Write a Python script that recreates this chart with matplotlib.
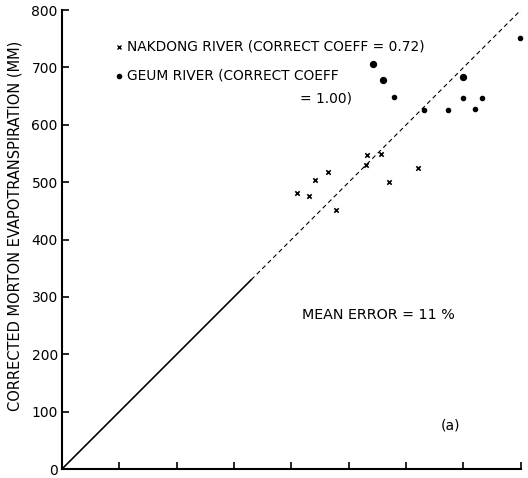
import numpy as np
import matplotlib.pyplot as plt

# observed vs corrected Morton ET (mm), read per basin
nakdong_obs = [410, 431, 441, 464, 478, 530, 531, 556, 570, 620]
nakdong_cor = [481, 476, 504, 518, 451, 530, 547, 549, 500, 525]

geum_obs = [542, 560, 700, 579, 631, 673, 700, 732, 720, 798]
geum_cor = [706, 678, 683, 648, 626, 626, 647, 647, 627, 752]

# 1:1 reference line, solid near the origin then broken
one_solid = [0, 330]
one_dash = [330, 800]

yticks = [0, 100, 200, 300, 400, 500, 600, 700, 800]
xticks = [0, 100, 200, 300, 400, 500, 600, 700, 800]

fig = plt.figure(figsize=(5.28, 4.78), dpi=100)
ax = fig.add_axes([0.1174, 0.0188, 0.869, 0.960])

ax.plot(one_solid, one_solid, color='black', lw=1.2)
ax.plot(one_dash, one_dash, color='black', lw=0.8, dashes=(4, 3))

ax.scatter(nakdong_obs, nakdong_cor, marker='x', s=10, color='black', lw=1.2, clip_on=False)
ax.scatter(geum_obs[:3], geum_cor[:3], marker='o', s=18, color='black', clip_on=False)
ax.scatter(geum_obs[3:], geum_cor[3:], marker='o', s=9, color='black', clip_on=False)

ax.set_xlim(0, 800)
ax.set_ylim(0, 800)
ax.set_xticks(xticks)
ax.set_xticklabels([])
ax.set_yticks(yticks)
ax.set_yticklabels([str(t) for t in yticks], fontsize=10)
ax.tick_params(axis='both', direction='in', length=5, width=1.2, pad=3)

for side in ('top', 'right'):
    ax.spines[side].set_visible(False)
for side in ('left', 'bottom'):
    ax.spines[side].set_linewidth(1.5)

ax.set_ylabel('CORRECTED MORTON EVAPOTRANSPIRATION (MM)', fontsize=10.5)
ax.yaxis.set_label_coords(-0.085, 0.53)

# legend written out as plain text
ax.plot([100], [736], marker='x', ms=3, color='black', lw=0, clip_on=False)
ax.text(113, 736, 'NAKDONG RIVER (CORRECT COEFF = 0.72)', fontsize=9.9, va='center')
ax.plot([100], [686], marker='o', ms=3, color='black', lw=0, clip_on=False)
ax.text(113, 686, 'GEUM RIVER (CORRECT COEFF', fontsize=9.9, va='center')
ax.text(415, 646, '= 1.00)', fontsize=9.9, va='center')

ax.text(418, 268, 'MEAN ERROR = 11 %', fontsize=10.3, va='center')
ax.text(660, 75, '(a)', fontsize=10, va='center')

fig.savefig('out.png', dpi=100)
